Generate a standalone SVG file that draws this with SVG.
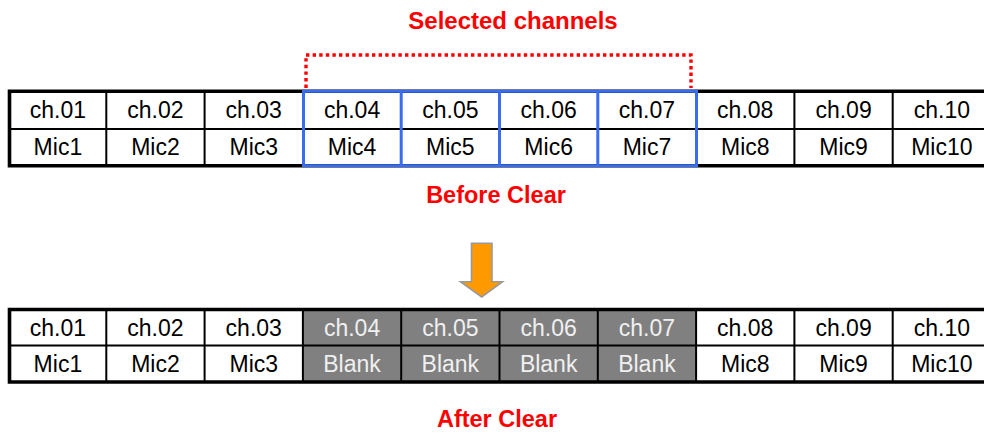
<svg xmlns="http://www.w3.org/2000/svg" width="984" height="434" viewBox="0 0 984 434">
<style>
.t{font-family:"Liberation Sans",Arial,sans-serif;font-size:23px;text-anchor:middle;fill:#000}
.w{fill:#f0f0f0}
.title{font-family:"Liberation Sans",Arial,sans-serif;font-weight:bold;fill:#ff0000;text-anchor:middle}
.outer{stroke:#000;stroke-width:3.6;fill:none}
.inner{stroke:#000;stroke-width:2;fill:none}
.blue{stroke:#3a6cf0;stroke-width:3;fill:none}
.gray{fill:#808080}
</style>
<rect width="984" height="434" fill="#fff"/>
<g id="titles">
<text class="title" x="513" y="29" font-size="24">Selected channels</text>
<text class="title" x="496" y="203" font-size="23.5">Before Clear</text>
<text class="title" x="497" y="427" font-size="23.5">After Clear</text>
</g>
<g id="selection">
<path d="M306 88 V55 H691 V88" fill="none" stroke="#ff0000" stroke-width="3.4" stroke-dasharray="3.4,3.2"/>
</g>
<g id="before-table">
<path class="inner" d="M9.5 129 H984 M106.3 91.3 V165.7 M204.6 91.3 V165.7 M794.4 91.3 V165.7 M892.7 91.3 V165.7"/>
<path class="outer" d="M984 91.3 H9.5 V165.7 H984"/>
<rect class="blue" x="303.5" y="91.3" width="393" height="74.4"/>
<path class="blue" d="M401.2 91.3 V165.7 M499.5 91.3 V165.7 M597.8 91.3 V165.7"/>
<text class="t" x="57.9" y="118">ch.01</text>
<text class="t" x="155.45" y="118">ch.02</text>
<text class="t" x="253.75" y="118">ch.03</text>
<text class="t" x="352.05" y="118">ch.04</text>
<text class="t" x="450.35" y="118">ch.05</text>
<text class="t" x="548.65" y="118">ch.06</text>
<text class="t" x="646.95" y="118">ch.07</text>
<text class="t" x="745.25" y="118">ch.08</text>
<text class="t" x="843.55" y="118">ch.09</text>
<text class="t" x="941.85" y="118">ch.10</text>
<text class="t" x="57.9" y="155.3">Mic1</text>
<text class="t" x="155.45" y="155.3">Mic2</text>
<text class="t" x="253.75" y="155.3">Mic3</text>
<text class="t" x="352.05" y="155.3">Mic4</text>
<text class="t" x="450.35" y="155.3">Mic5</text>
<text class="t" x="548.65" y="155.3">Mic6</text>
<text class="t" x="646.95" y="155.3">Mic7</text>
<text class="t" x="745.25" y="155.3">Mic8</text>
<text class="t" x="843.55" y="155.3">Mic9</text>
<text class="t" x="941.85" y="155.3">Mic10</text>
</g>
<g id="connectors">
<polygon points="471.5,243.3 492,243.3 492,281.7 502.5,281.7 481.7,297 460.5,281.7 471.5,281.7" fill="#ff9900" stroke="#999999" stroke-width="1.6" stroke-linejoin="miter"/>
</g>
<g id="after-table">
<rect class="gray" x="302.9" y="309.5" width="393.2" height="72.5"/>
<path class="inner" d="M9.5 345.5 H984 M106.3 309.5 V382 M204.6 309.5 V382 M302.9 309.5 V382 M401.2 309.5 V382 M499.5 309.5 V382 M597.8 309.5 V382 M696.1 309.5 V382 M794.4 309.5 V382 M892.7 309.5 V382"/>
<path class="outer" d="M984 309.5 H9.5 V382 H984"/>
<text class="t" x="57.9" y="335.5">ch.01</text>
<text class="t" x="155.45" y="335.5">ch.02</text>
<text class="t" x="253.75" y="335.5">ch.03</text>
<text class="t w" x="352.05" y="335.5">ch.04</text>
<text class="t w" x="450.35" y="335.5">ch.05</text>
<text class="t w" x="548.65" y="335.5">ch.06</text>
<text class="t w" x="646.95" y="335.5">ch.07</text>
<text class="t" x="745.25" y="335.5">ch.08</text>
<text class="t" x="843.55" y="335.5">ch.09</text>
<text class="t" x="941.85" y="335.5">ch.10</text>
<text class="t" x="57.9" y="371.5">Mic1</text>
<text class="t" x="155.45" y="371.5">Mic2</text>
<text class="t" x="253.75" y="371.5">Mic3</text>
<text class="t w" x="352.05" y="371.5">Blank</text>
<text class="t w" x="450.35" y="371.5">Blank</text>
<text class="t w" x="548.65" y="371.5">Blank</text>
<text class="t w" x="646.95" y="371.5">Blank</text>
<text class="t" x="745.25" y="371.5">Mic8</text>
<text class="t" x="843.55" y="371.5">Mic9</text>
<text class="t" x="941.85" y="371.5">Mic10</text>
</g>
</svg>
